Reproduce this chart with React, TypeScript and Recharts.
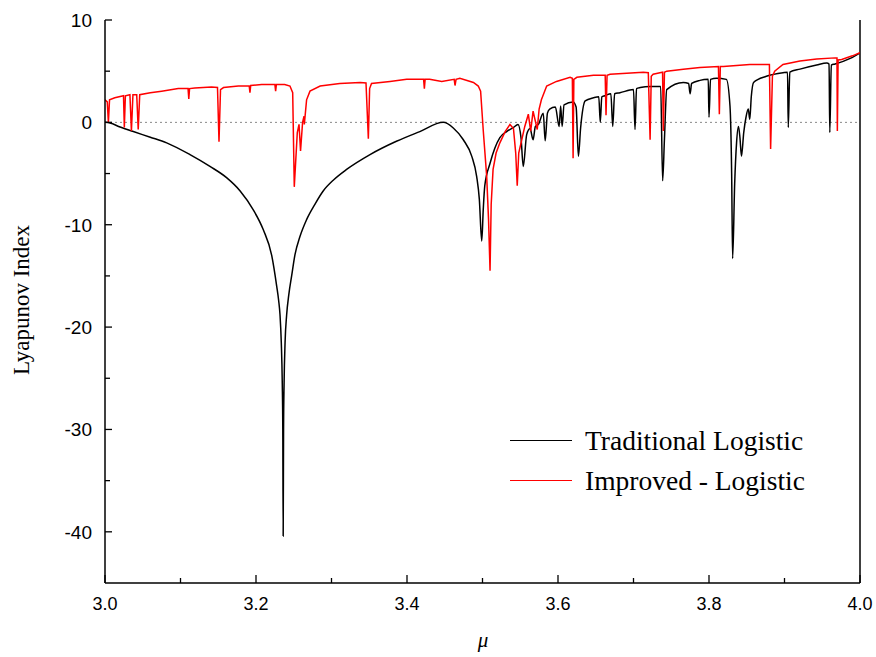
import React from 'react';
import { LineChart, Line, XAxis, YAxis, ReferenceLine } from 'recharts';

// Traditional Logistic (black)
const tradMu = [
  3.000, 3.0066, 3.020, 3.0375, 3.060, 3.0817, 3.1126, 3.139, 3.161, 3.179,
  3.196, 3.2097, 3.2208, 3.2274, 3.2300, 3.2318, 3.2335, 3.2348, 3.2355, 3.236,
  3.2365, 3.2372, 3.2385, 3.2406, 3.2435, 3.2472, 3.2517, 3.258, 3.267, 3.278,
  3.289, 3.303, 3.320, 3.351, 3.386, 3.417, 3.448, 3.4613, 3.4746, 3.4857,
  3.4923, 3.4958, 3.499, 3.501, 3.503, 3.510, 3.523, 3.532, 3.541, 3.547,
  3.551, 3.554, 3.5585, 3.563, 3.567, 3.570, 3.574, 3.5805, 3.583, 3.586,
  3.589, 3.5965, 3.6015, 3.6035, 3.6055, 3.608, 3.620, 3.624, 3.627, 3.630,
  3.636, 3.647, 3.654, 3.656, 3.658, 3.662, 3.670, 3.6725, 3.675, 3.682,
  3.700, 3.702, 3.704, 3.709, 3.722, 3.736, 3.7386, 3.741, 3.744, 3.766,
  3.773, 3.775, 3.777, 3.788, 3.799, 3.800, 3.802, 3.810, 3.823, 3.8278,
  3.830, 3.8313, 3.834, 3.8365, 3.839, 3.841, 3.843, 3.846, 3.849, 3.852,
  3.854, 3.856, 3.859, 3.876, 3.898, 3.904, 3.905, 3.907, 3.9205, 3.9426,
  3.956, 3.959, 3.960, 3.962, 3.967, 3.987, 4.000,
];
const tradVal = [
  0, -0.07, -0.45, -0.9, -1.45, -2.0, -3.15, -4.3, -5.4, -6.7,
  -8.5, -10.5, -13.0, -16.0, -17.4, -18.8, -21.5, -25.5, -30, -40.4,
  -30, -25.5, -21.5, -18.8, -16.8, -15.0, -12.9, -11.2, -9.5, -8.0,
  -6.7, -5.6, -4.6, -3.15, -1.85, -0.9, 0, -0.55, -1.7, -3.3,
  -5.3, -7.5, -11.6, -8.5, -6.2, -4.0, -1.5, -0.9, -0.5, -0.2,
  -1.5, -4.3, -1.2, -0.6, -1.7, -0.4, -0.2, 0.9, -1.8, 0.9,
  1.3, 1.5, -0.4, 1.6, -0.4, 1.7, 2.0, 1.5, -3.3, -0.5,
  2.1, 2.4, 2.5, 0.0, 2.5, 2.6, 2.8, -0.4, 2.8, 2.9,
  3.2, -0.7, 3.3, 3.4, 3.5, 3.5, -5.7, -1.6, 3.2, 3.9,
  3.8, 2.8, 3.8, 4.1, 4.2, 0.5, 4.2, 4.3, 4.2, 1.6,
  -5, -13.3, -6, -2.0, -0.4, -1.5, -3.3, -1.0, 0.5, 1.3,
  0.3, 2.5, 3.9, 4.5, 4.85, 4.9, -0.5, 4.9, 5.2, 5.6,
  5.8, 5.7, -1.0, 5.6, 5.7, 6.25, 6.8,
];

// Improved - Logistic (red)
const impMu = [
  3.000, 3.003, 3.0045, 3.006, 3.013, 3.0245, 3.0256, 3.027, 3.033, 3.035,
  3.037, 3.042, 3.044, 3.046, 3.060, 3.075, 3.097, 3.110, 3.111, 3.112,
  3.119, 3.141, 3.149, 3.151, 3.153, 3.157, 3.1766, 3.191, 3.192, 3.193,
  3.2075, 3.225, 3.226, 3.227, 3.238, 3.245, 3.2486, 3.2507, 3.2547, 3.257,
  3.259, 3.2617, 3.2636, 3.264, 3.267, 3.2715, 3.285, 3.311, 3.338, 3.3457,
  3.3488, 3.3505, 3.353, 3.3775, 3.3996, 3.422, 3.423, 3.424, 3.430, 3.446,
  3.4625, 3.4636, 3.465, 3.470, 3.488, 3.4944, 3.4975, 3.501, 3.5055, 3.508,
  3.510, 3.5115, 3.514, 3.518, 3.523, 3.530, 3.5364, 3.541, 3.544, 3.546,
  3.548, 3.552, 3.556, 3.5607, 3.5638, 3.567, 3.5725, 3.575, 3.578, 3.585,
  3.598, 3.616, 3.619, 3.620, 3.621, 3.625, 3.647, 3.6625, 3.6636, 3.665,
  3.669, 3.691, 3.713, 3.7196, 3.722, 3.7235, 3.726, 3.735, 3.7385, 3.7395,
  3.741, 3.744, 3.766, 3.788, 3.8125, 3.8137, 3.815, 3.819, 3.854, 3.880,
  3.8816, 3.884, 3.887, 3.898, 3.9205, 3.9426, 3.967, 3.9695, 3.970, 3.971,
  3.9757, 3.990, 4.000,
];
const impVal = [
  2.2, 2.0, 0.0, 2.2, 2.4, 2.6, -0.5, 2.6, 2.7, -0.85,
  2.7, 2.7, -0.7, 2.7, 2.9, 3.05, 3.3, 3.3, 2.3, 3.3,
  3.35, 3.45, 3.4, -1.9, 3.2, 3.4, 3.55, 3.55, 2.9, 3.6,
  3.7, 3.7, 3.05, 3.7, 3.7, 3.55, 2.9, -6.3, -1.0, -0.2,
  -2.8, 0.0, 0.6, -0.2, 2.2, 3.05, 3.55, 3.8, 3.9, 3.85,
  -1.6, 3.3, 3.8, 4.0, 4.2, 4.2, 3.3, 4.2, 4.2, 4.0,
  4.2, 3.6, 4.2, 4.3, 3.9, 3.55, 3.05, -0.8, -5.2, -9.5,
  -14.5, -8, -4.6, -3.0, -2.0, -0.9, -0.2, -0.6, -3, -6.2,
  -3, -1.7, -0.4, 0.8, -0.85, 1.1, -0.7, 1.3, 2.2, 3.55,
  4.0, 4.4, 4.3, -3.5, 4.2, 4.4, 4.6, 4.6, 0.7, 4.6,
  4.7, 4.8, 4.9, 4.85, -1.7, 4.5, 4.7, 4.85, 4.9, -0.85,
  4.9, 5.0, 5.2, 5.35, 5.45, 0.8, 5.45, 5.45, 5.65, 5.65,
  -2.6, 4.5, 5.0, 5.65, 6.0, 6.2, 6.3, 6.3, -0.85, 6.1,
  6.15, 6.5, 6.8,
];

const xTicks = [3.0, 3.1, 3.2, 3.3, 3.4, 3.5, 3.6, 3.7, 3.8, 3.9, 4.0];
const yTicks = [10, 5, 0, -5, -10, -15, -20, -25, -30, -35, -40];

const tradData = tradMu.map((mu, i) => ({ mu, v: tradVal[i] }));
const impData = impMu.map((mu, i) => ({ mu, v: impVal[i] }));

const SERIF = "'Liberation Serif', 'Times New Roman', serif";

const XTick = (props: any) => {
  const { x, y, payload, index } = props;
  const major = index % 2 === 0;
  return (
    <g>
      <line x1={x} x2={x} y1={y} y2={y - (major ? 8 : 5)} stroke="#000" strokeWidth={1.3} />
      {major && (
        <text x={x} y={y + 27} textAnchor="middle" fontSize={18} fill="#000"
          fontFamily="'Liberation Sans Narrow', 'Liberation Sans', Arial, sans-serif">
          {payload.value.toFixed(1)}
        </text>
      )}
    </g>
  );
};

const YTick = (props: any) => {
  const { x, y, payload } = props;
  const major = payload.value % 10 === 0;
  return (
    <g>
      <line x1={x} x2={x + (major ? 7 : 5)} y1={y} y2={y} stroke="#000" strokeWidth={1.3} />
      {major && (
        <text x={x - 13} y={y + 7} textAnchor="end" fontSize={19} fill="#000"
          fontFamily="'Liberation Sans', Arial, sans-serif">
          {payload.value}
        </text>
      )}
    </g>
  );
};

export default function App() {
  return (
    <div style={{ position: 'absolute', left: 0, top: 0, width: 876, height: 657, background: '#fff' }}>
      <LineChart width={876} height={657} margin={{ top: 20, right: 16, bottom: 0, left: 0 }}>
        <XAxis
          type="number" dataKey="mu" domain={[3, 4]} ticks={xTicks} height={74}
          allowDataOverflow tickSize={0} tickMargin={0} tickLine={false}
          axisLine={{ stroke: '#000', strokeWidth: 1.5 }} tick={<XTick />}
        />
        <YAxis
          type="number" domain={[-45, 10]} ticks={yTicks} width={105}
          allowDataOverflow tickSize={0} tickMargin={0} tickLine={false}
          axisLine={{ stroke: '#000', strokeWidth: 1.5 }} tick={<YTick />}
        />
        <ReferenceLine y={0} stroke="#888" strokeDasharray="2 3" strokeWidth={1} />
        <ReferenceLine x={4} stroke="#000" strokeWidth={1.5} />
        <Line data={tradData} dataKey="v" type="monotoneX" stroke="#000" strokeWidth={1.5}
          dot={false} isAnimationActive={false} />
        <Line data={impData} dataKey="v" type="linear" stroke="#ff0000" strokeWidth={1.5}
          dot={false} isAnimationActive={false} />
      </LineChart>

      <div style={{
        position: 'absolute', left: 22, top: 300, transform: 'translate(-50%, -50%) rotate(-90deg)',
        fontFamily: SERIF, fontSize: 23, whiteSpace: 'nowrap',
      }}>Lyapunov Index</div>
      <div style={{
        position: 'absolute', left: 483, top: 640, transform: 'translate(-50%, -50%)',
        fontFamily: SERIF, fontSize: 21, fontStyle: 'italic',
      }}>μ</div>

      <div style={{ position: 'absolute', left: 510, top: 440, width: 62, borderTop: '1.5px solid #000' }} />
      <div style={{
        position: 'absolute', left: 585, top: 441, transform: 'translateY(-50%)', whiteSpace: 'nowrap',
        fontFamily: SERIF, fontSize: 27.5,
      }}>Traditional Logistic</div>
      <div style={{ position: 'absolute', left: 510, top: 480, width: 62, borderTop: '1.5px solid #ff0000' }} />
      <div style={{
        position: 'absolute', left: 585, top: 481, transform: 'translateY(-50%)', whiteSpace: 'nowrap',
        fontFamily: SERIF, fontSize: 27.5,
      }}>Improved - Logistic</div>
    </div>
  );
}
